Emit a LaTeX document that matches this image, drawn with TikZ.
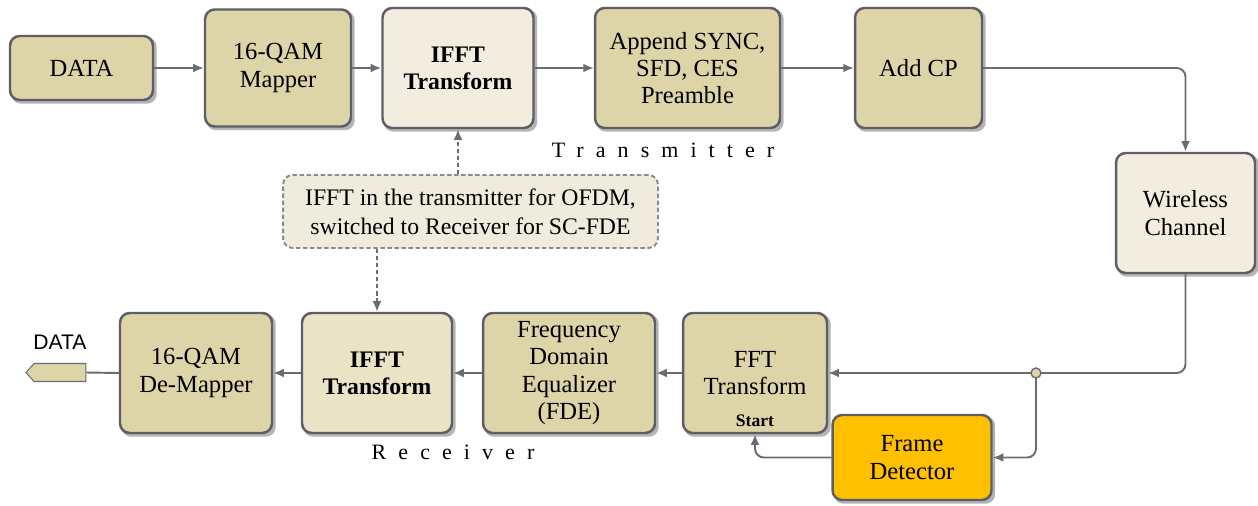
\documentclass[tikz,border=0pt]{standalone}
\usepackage{fontspec}
\setmainfont{Liberation Serif}
\newfontfamily\labsans{Liberation Sans}
\usetikzlibrary{arrows.meta,shapes.symbols,backgrounds}
\definecolor{tanf}{HTML}{DDD4A8}
\definecolor{cream}{HTML}{F2EDDE}
\definecolor{creamb}{HTML}{EAE3C6}
\definecolor{notefill}{HTML}{EFEBDD}
\definecolor{bord}{HTML}{5E5E66}
\definecolor{wire}{HTML}{6B6B73}
\definecolor{orangef}{HTML}{FFC000}
\definecolor{shad}{HTML}{B4B4B4}
\tikzset{
  blk/.style={draw=bord, line width=1.4pt, rounded corners=5.5pt, inner sep=0pt},
  txt/.style={align=center, font=\fontsize{14}{15.5}\selectfont, inner sep=1pt},
  wline/.style={draw=wire, line width=1.1pt},
  arr/.style={wline, -{Latex[length=6pt,width=5pt]}},
  rarr/.style={arr, rounded corners=5pt},
  darr/.style={draw=wire, line width=1.1pt, dash pattern=on 2.5pt off 1.5pt, -{Latex[length=6pt,width=5pt]}},
  spaced/.style={font=\fontsize{12.5}{14}\selectfont\addfontfeature{LetterSpace=55}},
  shadowbox/.style={fill=shad, rounded corners=5.5pt}
}
\begin{document}
\begin{tikzpicture}[x=0.02cm,y=-0.02cm]
\useasboundingbox (0,0) rectangle (1258,506);
% transmitter row
\node[blk, fill=tanf, minimum width=2.86cm, minimum height=1.28cm] (data) at (81.5,68) {};
\node[txt] (data-t) at (data) {DATA};
\node[blk, fill=tanf, minimum width=2.92cm, minimum height=2.34cm] (map) at (278,68) {};
\node[txt] (map-t) at (map) {16-QAM\\Mapper};
\node[blk, fill=cream, minimum width=3.02cm, minimum height=2.40cm] (ifft1) at (458,68) {};
\node[txt, font=\fontsize{13.5}{15.5}\selectfont\bfseries] (ifft1-t) at (ifft1) {IFFT\\Transform};
\node[blk, fill=tanf, minimum width=3.70cm, minimum height=2.40cm] (app) at (687.5,68) {};
\node[txt] (app-t) at (app) {Append SYNC,\\SFD, CES\\Preamble};
\node[blk, fill=tanf, minimum width=2.54cm, minimum height=2.40cm] (cp) at (918.5,68) {};
\node[txt] (cp-t) at (cp) {Add CP};
\node[blk, fill=cream, minimum width=2.78cm, minimum height=2.40cm] (wc) at (1185.5,213) {};
\node[txt] (wc-t) at (wc) {Wireless\\Channel};
\node[spaced] (tx) at (663,150) {Transmitter};
% note
\node[draw=wire!80, fill=notefill, line width=1.1pt, dash pattern=on 2.5pt off 1.5pt, rounded corners=5.5pt,
  minimum width=7.50cm, minimum height=1.46cm, align=center,
  font=\fontsize{13.5}{16.5}\selectfont] (note) at (470.5,211.5) {IFFT in the transmitter for OFDM,\\switched to Receiver for SC-FDE};
% receiver row
\node[blk, fill=tanf, minimum width=3.04cm, minimum height=2.40cm] (dem) at (196,373) {};
\node[txt] (dem-t) at (dem) {16-QAM\\De-Mapper};
\node[blk, fill=creamb, minimum width=3.00cm, minimum height=2.40cm] (ifft2) at (377,373) {};
\node[txt, font=\fontsize{13.5}{15.5}\selectfont\bfseries] (ifft2-t) at (ifft2) {IFFT\\Transform};
\node[blk, fill=tanf, minimum width=3.44cm, minimum height=2.40cm] (fde) at (569,373) {};
\node[txt] (fde-t) at (fde) {Frequency\\Domain\\Equalizer\\(FDE)};
\node[blk, fill=tanf, minimum width=2.88cm, minimum height=2.40cm] (fft) at (755,373) {};
\node[txt] (fft-t) at (fft) {FFT\\Transform};
\node[font=\fontsize{10}{12}\selectfont\bfseries] (start) at (755,421) {Start};
\node[blk, fill=orangef, minimum width=3.18cm, minimum height=1.70cm] (fd) at (912,457.5) {};
\node[txt] (fd-t) at (fd) {Frame\\Detector};
\node[spaced] (rx) at (453,452) {Receiver};
% shadows
\begin{pgfonlayer}{background}
\foreach \n in {data,map,ifft1,app,cp,wc,dem,ifft2,fde,fft,fd}
  \fill[shadowbox] ([shift={(2.5,2.5)}]\n.north west) rectangle ([shift={(2.5,2.5)}]\n.south east);
\end{pgfonlayer}
% output data
\node[shape=signal, signal to=west, signal from=nowhere, signal pointer angle=95, draw=wire, line width=0.6pt, fill=tanf,
  minimum width=1.2cm, minimum height=0.36cm, inner sep=0pt] (out) at (60,372.5) {};
\node[font=\labsans\fontsize{12}{14}\selectfont] (outlab) at (60,342) {DATA};
\coordinate (j) at (1036,373);
% connectors
\draw[arr] (data) -- (map);
\draw[arr] (map) -- (ifft1);
\draw[arr] (ifft1) -- (app);
\draw[arr] (app) -- (cp);
\draw[rarr] (cp.east) -| (wc.north);
\draw[wline, rounded corners=5pt] (wc.south) |- (j);
\draw[arr] (j) -- (fft.east);
\draw[rarr] (j) |- (fd.east);
\draw[rarr] (fd.west) -| (fft.south);
\draw[arr] (fft) -- (fde);
\draw[arr] (fde) -- (ifft2);
\draw[arr] (ifft2) -- (dem);
\draw[wline] (dem.west) -- (out.east);
\draw[darr] (ifft1.south |- note.north) -- (ifft1.south);
\draw[darr] (ifft2.north |- note.south) -- (ifft2.north);
\node[circle, draw=wire, fill=tanf, line width=0.8pt, minimum size=0.2cm, inner sep=0pt] (jd) at (j) {};
\end{tikzpicture}
\end{document}
